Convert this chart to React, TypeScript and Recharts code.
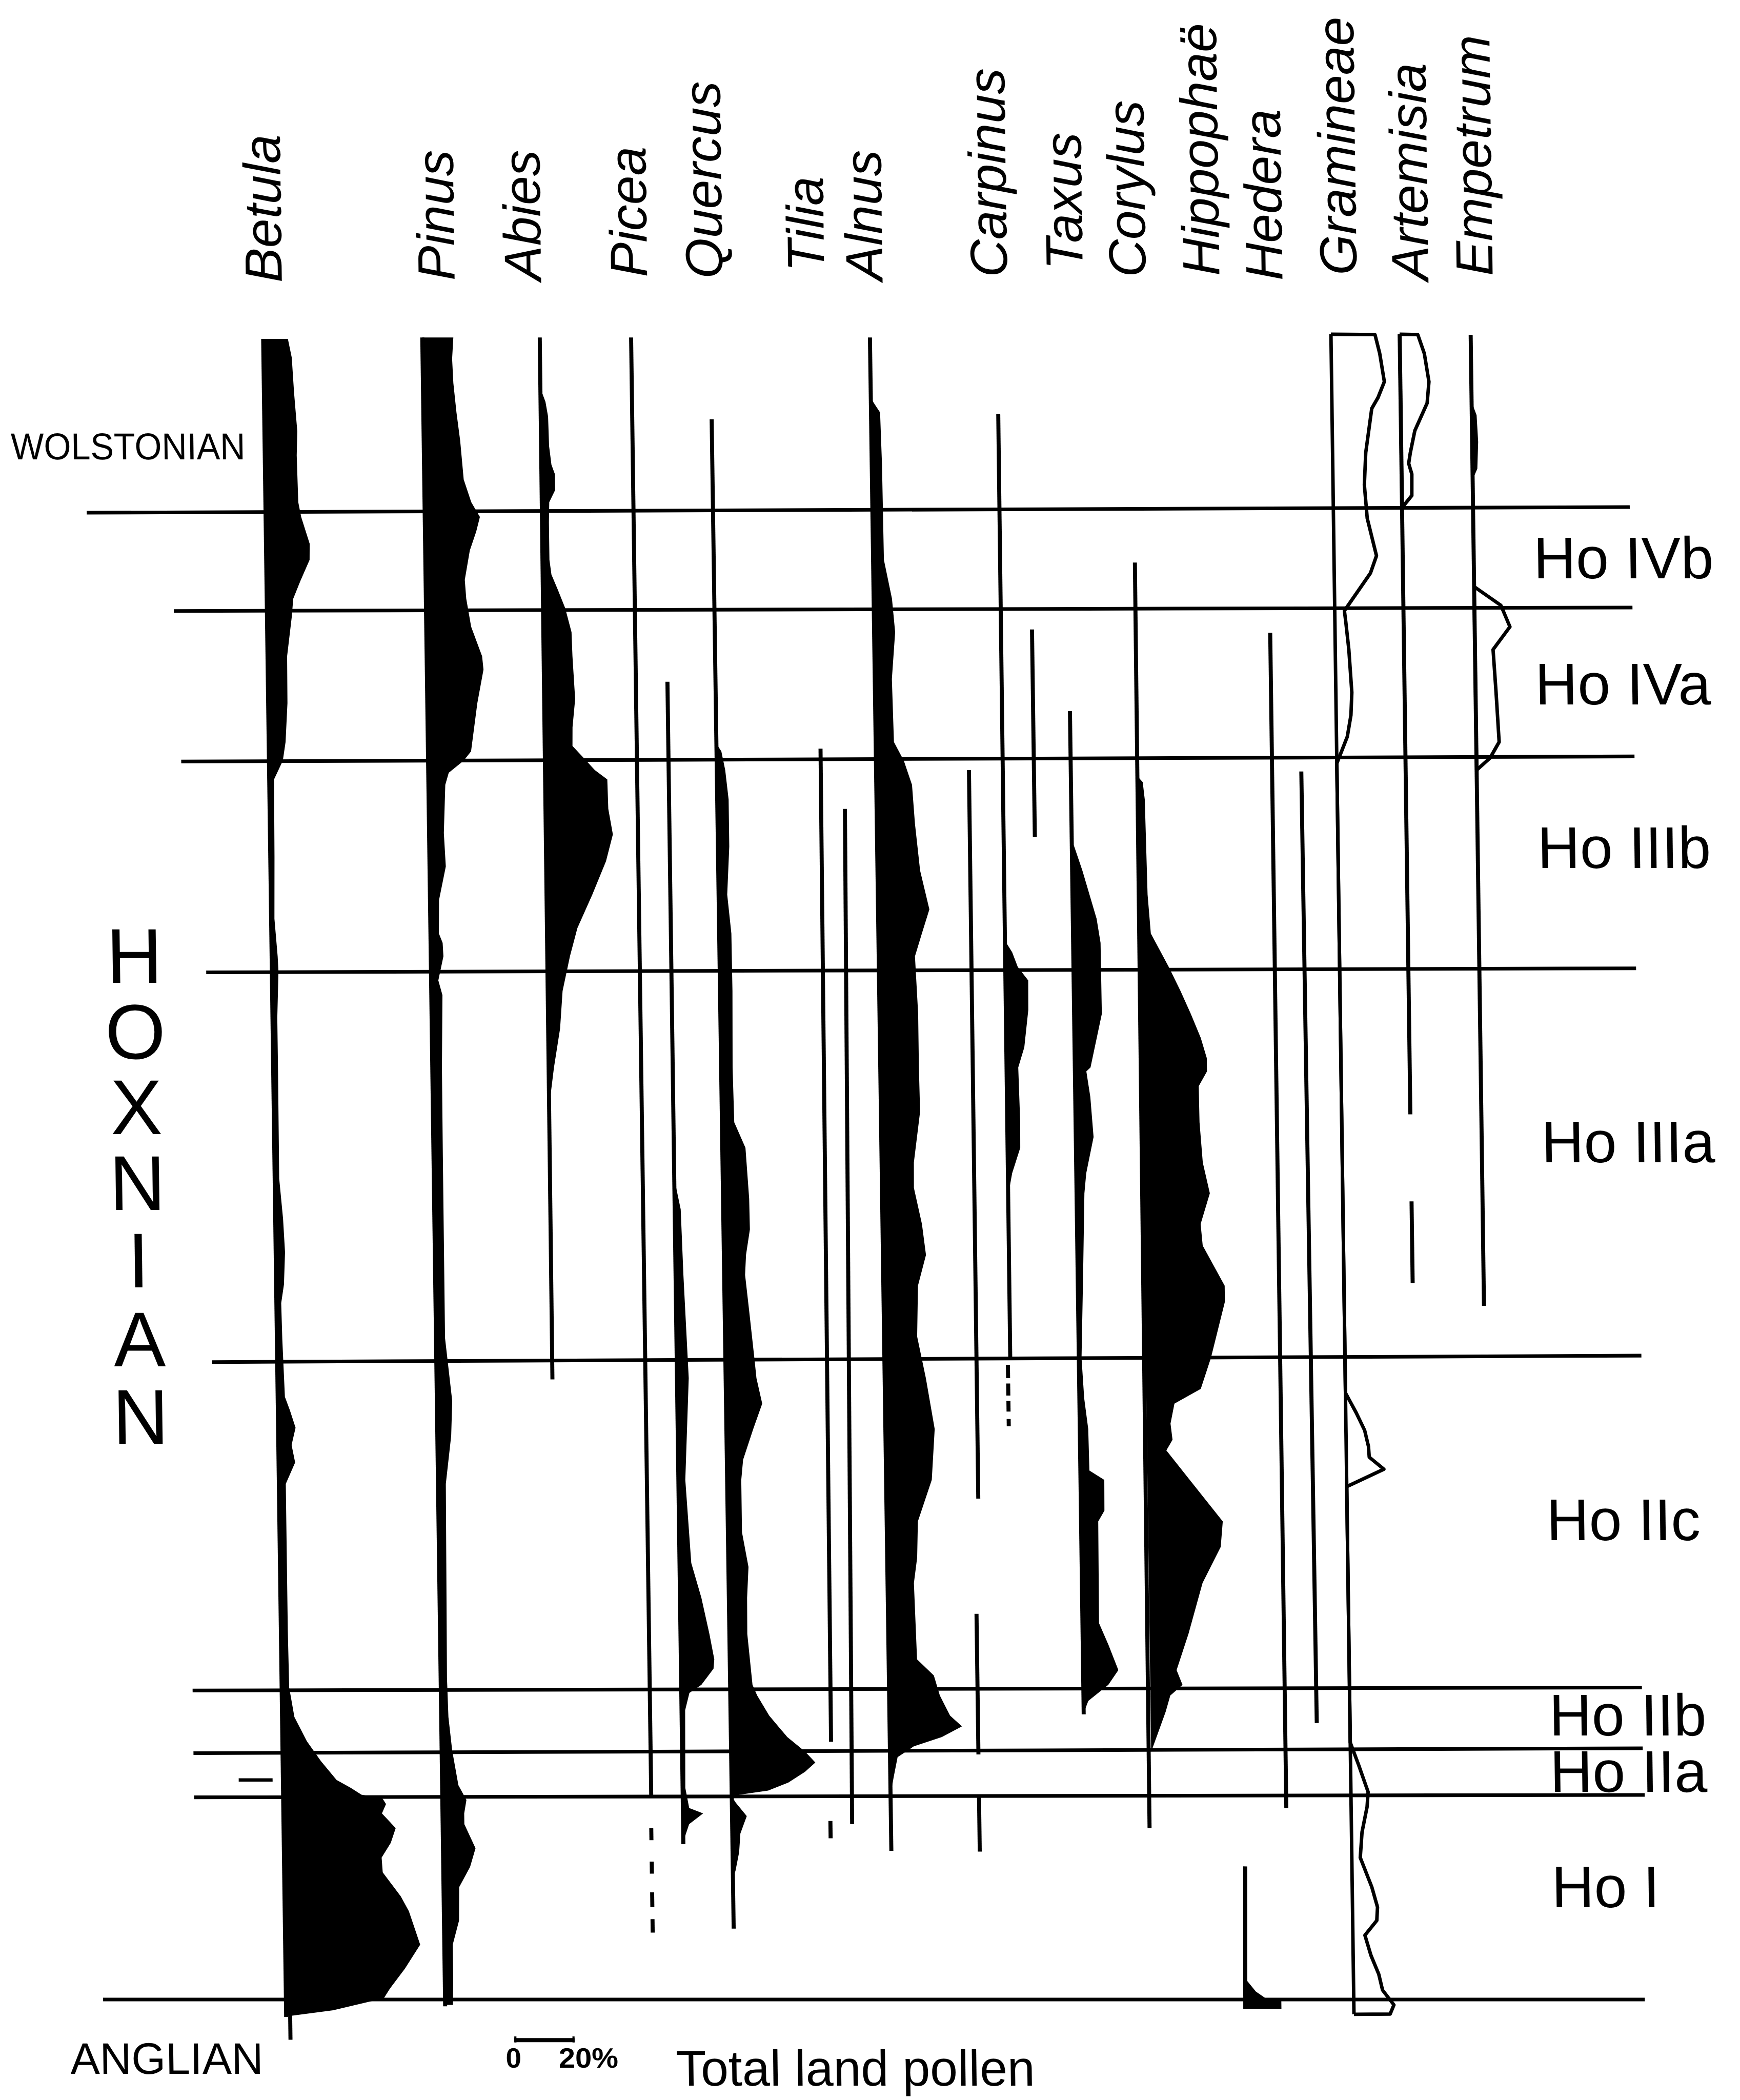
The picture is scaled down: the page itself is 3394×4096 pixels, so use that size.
import React from 'react';
import { ComposedChart, Area, XAxis, YAxis, ReferenceLine } from 'recharts';

type Sample = [number, number]; // [depth, % of total land pollen]

// ---- canvas & drawing units -------------------------------------------
const W = 3394;
const H = 4096;
const UX = 1299; // horizontal drawing units across the sheet
const UY = 1568; // depth units down the sheet
const K = W / UX;
const PCT = 2.25; // drawing units for 1 % of total land pollen (20 % bar = 45 units)
const SHEAR = 0.0137; // the whole sheet leans slightly to the right
const SHEAR_Y0 = 255;
const INK = '#000';
const FONT = "'Liberation Sans', Arial, Helvetica, sans-serif";

// ---- taxa ---------------------------------------------------------------
const TAXA = [
  'Betula', 'Pinus', 'Abies', 'Picea', 'Quercus', 'Tilia', 'Alnus', 'Carpinus',
  'Taxus', 'Corylus', 'Hippophaë', 'Hedera', 'Gramineae', 'Artemisia', 'Empetrum',
];
// label baseline x and start y for each rotated taxon name
const TAXON_LABEL_X = [211, 340, 404.6, 483.8, 540, 616, 659.5, 752.5, 809, 856, 911, 958, 1013.5, 1067, 1115];
const TAXON_LABEL_Y = [211, 209.5, 209.5, 207, 208, 203, 209.5, 207, 201.5, 207, 206, 209.5, 205.5, 209.5, 206];

// ---- zones --------------------------------------------------------------
const ZONES = ['Ho IVb', 'Ho IVa', 'Ho IIIb', 'Ho IIIa', 'Ho IIc', 'Ho IIb', 'Ho IIa', 'Ho I'];
const ZONE_LABEL_Y = [432, 526, 648, 868, 1150, 1296, 1338, 1424];
// zone boundaries: depth at the left end, depth at the right end
const BOUNDARY_LEFT = [382.8, 456.2, 568.6, 726, 1017, 1262.2, 1309, 1342, 1493];
const BOUNDARY_RIGHT = [378.6, 453.6, 564.8, 723, 1012.2, 1260, 1305.4, 1340.2, 1493];
const BOUNDARY_X0 = [63, 127, 131, 147.5, 148, 130, 130, 130, 60];
const BOUNDARY_X1 = [1215, 1216, 1216, 1215, 1215, 1212, 1212, 1213, 1211];

const STAGE = 'HOXNIAN';
const STAGE_Y = [733.7, 790.5, 846.7, 903.6, 961.3, 1020.1, 1077.9];

// ---- pollen curves (% total land pollen) --------------------------------
const BETULA: Sample[] = [
  [253, 8.2], [267, 9.4], [293, 10], [322, 10.9], [340, 10.6], [375, 10.9], [386, 11.8],
  [406, 14.5], [418, 14.4], [434, 11.2], [447, 8.8], [461, 8.2], [490, 6.5], [525, 6.4],
  [554, 5.6], [568, 4.6], [582, 1.6], [640, 1.4], [686, 1.1], [714, 2], [725, 2.2],
  [760, 1.6], [800, 1.6], [880, 1.5], [910, 2.6], [935, 3.1], [959, 2.6], [973, 1.6],
  [1000, 1.8], [1043, 2.4], [1053, 4], [1066, 5.8], [1079, 4.4], [1092, 5.5], [1108, 2.3],
  [1217, 2.3], [1260, 2.5], [1282, 4.1], [1300, 8.1], [1315, 12.7], [1329, 17.8],
  [1335, 22.5], [1340, 26], [1343, 33], [1347, 34.1], [1354, 32.7], [1365, 37.2],
  [1376, 35.5], [1387, 32.4], [1398, 32.7], [1416, 38.6], [1427, 41.2], [1452, 44.8],
  [1470, 39.6], [1485, 34.5], [1492, 32.5], [1501, 15.6], [1505, 2],
];
const PINUS: Sample[] = [
  [252, 10.3], [268, 9.8], [286, 10.1], [308, 11], [329, 12.1], [358, 13.1], [375, 15.5],
  [386, 18.3], [397, 17], [411, 14.8], [433, 13], [447, 13.4], [468, 14.9], [490, 18.4],
  [500, 18.8], [525, 16.6], [561, 14.3], [568, 11.8], [577, 6.8], [586, 5.6], [622, 4.9],
  [647, 5.4], [672, 3], [697, 2.8], [704, 4], [714, 4.2], [732, 2.4], [743, 3.7],
  [797, 3.2], [864, 3.1], [999, 3], [1046, 5.1], [1072, 4.6], [1108, 2.6], [1253, 2.1],
  [1282, 2.4], [1307, 3.5], [1333, 5.4], [1344, 8], [1354, 7.2], [1362, 7.2], [1380, 10.8],
  [1394, 8.9], [1409, 5.2], [1434, 5], [1452, 2.8], [1478, 2.8], [1497, 2.6],
];
const ABIES: Sample[] = [
  [290, 0], [300, 1.6], [311, 2.4], [333, 2.6], [347, 3.3], [354, 4.4], [366, 4.4],
  [375, 2.4], [390, 2.2], [418, 2.2], [429, 2.8], [440, 4.8], [454, 7.2], [472, 9.2],
  [490, 9.4], [522, 10.1], [543, 9.1], [557, 9], [565, 12.3], [575, 16.3], [582, 20.4],
  [604, 20.6], [623, 22], [643, 19.6], [668, 14.9], [693, 9.8], [714, 7.2], [740, 4.6],
  [768, 3.6], [797, 1.4], [820, 0],
];
const QUERCUS: Sample[] = [
  [555, 0], [561, 1.7], [575, 2.9], [597, 3.9], [632, 3.9], [668, 3], [697, 4.2],
  [740, 4.3], [797, 4], [838, 4.3], [857, 7.9], [895, 8.9], [918, 9], [937, 7.6],
  [952, 7.2], [979, 8.4], [1014, 9.9], [1029, 10.5], [1048, 12.3], [1067, 9.2],
  [1090, 5.7], [1105, 5], [1144, 5], [1170, 7], [1193, 6.4], [1220, 6.3], [1258, 7.8],
  [1266, 9.3], [1281, 13.2], [1297, 19.1], [1308, 25], [1316, 28.3], [1323, 24.8],
  [1331, 19.2], [1337, 12.5], [1340, 3], [1342, 0.6], [1346, 1.7], [1356, 5.3],
  [1369, 3.1], [1383, 2.6], [1397, 1.3], [1405, 0],
];
// unlabelled trace drawn just left of Quercus
const TRACE_A: Sample[] = [
  [880, 0], [903, 2], [952, 2.6], [1029, 3.9], [1105, 2.3], [1167, 3.9], [1193, 7.1],
  [1220, 9.6], [1239, 11.1], [1246, 10.8], [1258, 6.7], [1264, 2.7], [1277, 1.2],
  [1335, 0.9], [1350, 2.1], [1354, 6.7], [1362, 2], [1375, 0],
];
const ALNUS: Sample[] = [
  [298, 0], [302, 1.1], [308, 2.8], [347, 3.2], [418, 3.4], [447, 5.9], [472, 6.8],
  [507, 5.5], [554, 5.9], [568, 9.1], [586, 11.7], [615, 12.5], [650, 14], [679, 16.9],
  [697, 14.3], [714, 11.9], [757, 12.7], [797, 12.7], [830, 12.9], [868, 10.6],
  [887, 10.5], [914, 13], [937, 14.2], [960, 11.4], [998, 10.9], [1029, 13.6],
  [1067, 16.3], [1105, 15.1], [1136, 10.3], [1163, 9.9], [1182, 8.7], [1239, 9.4],
  [1251, 14.9], [1266, 16.8], [1281, 20.1], [1289, 24], [1297, 17.3], [1304, 7.9],
  [1312, 2.5], [1327, 1.1], [1340, 0],
];
const CARPINUS: Sample[] = [
  [700, 0], [704, 0.4], [711, 2.3], [722, 4.1], [732, 7.5], [754, 7.4], [782, 5.9],
  [797, 3.8], [838, 4.2], [857, 4.1], [876, 1.3], [891, 0],
];
const TAXUS: Sample[] = [
  [628, 0], [632, 0.8], [650, 3.4], [686, 7.9], [704, 9.1], [757, 9.2], [797, 5.2],
  [800, 3.8], [819, 5], [849, 5.9], [876, 3.3], [891, 2.6], [952, 1.8], [1014, 0.9],
  [1044, 1.6], [1067, 2.8], [1098, 3], [1105, 7.9], [1128, 7.8], [1136, 5.7],
  [1212, 5.5], [1228, 8.5], [1247, 11.7], [1258, 8.3], [1270, 1.6], [1279, 0],
];
const CORYLUS: Sample[] = [
  [580, 0], [584, 1.6], [597, 2.2], [668, 2.7], [697, 3.6], [722, 9.4], [740, 13.2],
  [757, 16.5], [775, 19.7], [790, 21.6], [800, 21.6], [811, 18.8], [838, 18.9],
  [868, 19.8], [891, 22], [914, 18.8], [930, 19.4], [960, 26.5], [972, 26.5],
  [1014, 21.6], [1037, 18.1], [1048, 9.3], [1063, 7.9], [1075, 8.5], [1083, 6.4],
  [1102, 13], [1136, 24.8], [1155, 24], [1182, 17.8], [1220, 12.9], [1247, 8.8],
  [1258, 10.7], [1266, 6.6], [1278, 5], [1293, 2.5], [1308, 0],
];
// short trace at the foot of the Hedera column
const TRACE_B: Sample[] = [
  [1478, 0], [1487, 3.2], [1493, 7], [1494, 11.6], [1500, 11.6],
];
const GRAMINEAE: Sample[] = [
  [249.6, 0], [249.8, 14.6], [264, 16.1], [285, 17.5], [297, 15.3], [305, 13.2],
  [338, 11], [362, 10.4], [387, 11.2], [415, 14.1], [428, 12], [456, 3.2], [464, 3.6],
  [485, 4.5], [517, 5.3], [534, 4.9], [550, 3.6], [570, 0], [1040, 0], [1055, 3.5],
  [1068, 6.2], [1080, 7.4], [1088, 7.6], [1097, 12.4], [1110, 0], [1301, 0],
  [1318, 2.7], [1338, 5.7], [1349, 5.3], [1368, 3.5], [1387, 2.8], [1409, 6.5],
  [1424, 8.3], [1434, 8], [1445, 4], [1460, 5.9], [1474, 8.4], [1486, 9.6],
  [1497, 13.3], [1503.8, 12], [1504, 0],
];
const ARTEMISIA: Sample[] = [
  [249.6, 0], [249.8, 6], [264, 8.1], [285, 9.5], [301, 8.8], [321.5, 4.6], [338, 3],
  [346, 2.4], [354, 3.4], [370, 3.3], [379, 0],
];
const EMPETRUM: Sample[] = [
  [438, 0], [452, 8.8], [468, 11.7], [485, 6], [517, 6.8], [554, 7.6], [566, 4.5], [575, 0],
];
const EMPETRUM_TOP: Sample[] = [[300, 0], [310, 1.6], [330, 2], [350, 1.6], [358, 0]];

interface CurveDef { key: string; origin: number; samples: Sample[]; outline?: boolean }
const CURVES: CurveDef[] = [
  { key: 'betula', origin: 196.5, samples: BETULA },
  { key: 'pinus', origin: 315.3, samples: PINUS },
  { key: 'abies', origin: 403, samples: ABIES },
  { key: 'traceA', origin: 494.8, samples: TRACE_A },
  { key: 'quercus', origin: 530.5, samples: QUERCUS },
  { key: 'alnus', origin: 650, samples: ALNUS },
  { key: 'carpinus', origin: 744.2, samples: CARPINUS },
  { key: 'taxus', origin: 795, samples: TAXUS },
  { key: 'corylus', origin: 845, samples: CORYLUS },
  { key: 'traceB', origin: 913.5, samples: TRACE_B },
  { key: 'empetrumTop', origin: 1098, samples: EMPETRUM_TOP },
  { key: 'gramineae', origin: 993.7, samples: GRAMINEAE, outline: true },
  { key: 'artemisia', origin: 1045, samples: ARTEMISIA, outline: true },
  { key: 'empetrum', origin: 1098, samples: EMPETRUM, outline: true },
];

// zero lines of each record: x at top, x at bottom, first and last depth
const RECORD_SPANS: [number, number, number, number][] = [
  [196.5, 196.5, 253, 1506], // Betula
  [315.3, 315.3, 252, 1498], // Pinus
  [403, 401.8, 252, 1030], // Abies
  [471.2, 471.3, 252, 1342.5], // Picea
  [494.8, 494.8, 509, 1377],
  [530.5, 531.5, 313, 1440], // Quercus
  [608.4, 606.1, 559, 1300.5], // Tilia
  [604.8, 604.8, 1359.7, 1372.6],
  [626, 621, 604, 1362],
  [649.5, 650, 252, 1382], // Alnus
  [719, 718.5, 575, 1119],
  [716, 716, 1205, 1310],
  [716, 716, 1340.6, 1382.5],
  [744.5, 743.8, 309, 1015], // Carpinus
  [767.5, 767.5, 470, 625],
  [795, 795, 531, 1280], // Taxus
  [845, 843, 420, 1365], // Corylus
  [945.3, 945.3, 472.5, 1350], // Hedera
  [914, 912.6, 1393.6, 1500],
  [967.1, 968.9, 576, 1286.5],
  [1045, 1045, 249.6, 832], // Artemisia
  [1045, 1045, 897, 958],
  [1098, 1098, 250, 975], // Empetrum
];
// broken continuation of Picea and Carpinus: [x, from, to]
const BROKEN: [number, number, number][] = [
  [471, 1365, 1374], [471, 1390, 1399], [471, 1413, 1424], [471, 1433, 1443],
  [742, 1019, 1029], [742, 1033, 1042], [742, 1046, 1054], [742, 1059.5, 1065],
];

const SCALE_BAR_X = 366.6;
const SCALE_BAR_Y = 1523.3;
const SCALE_PCT = 20;

function buildRows() {
  const set = new Set<number>();
  CURVES.forEach((c) => c.samples.forEach(([d]) => set.add(d)));
  const depths = Array.from(set).sort((a, b) => a - b);
  return depths.map((d) => {
    const row: Record<string, unknown> = { depth: d };
    CURVES.forEach((c) => {
      const s = c.samples.find((p) => p[0] === d);
      row[c.key] = s ? [c.origin, c.origin + s[1] * PCT] : [null, null];
    });
    return row;
  });
}

const ROWS = buildRows();

function seg(x0: number, y0: number, x1: number, y1: number, w: number, key: string) {
  return (
    <ReferenceLine
      key={key}
      segment={[{ x: x0, y: y0 }, { x: x1, y: y1 }]}
      stroke={INK}
      strokeWidth={w * K}
      ifOverflow="visible"
    />
  );
}

export default function App() {
  const shearDeg = (Math.atan(SHEAR) * 180) / Math.PI;
  return (
    <div style={{ position: 'absolute', left: 0, top: 0, width: W, height: H, background: '#fff', overflow: 'hidden' }}>
      <div
        style={{
          position: 'absolute', left: 0, top: 0, width: W, height: H,
          transform: `skewX(${shearDeg}deg)`,
          transformOrigin: `0px ${SHEAR_Y0 * K}px`,
        }}
      >
        <ComposedChart
          width={W}
          height={H}
          data={ROWS}
          layout="vertical"
          margin={{ top: 0, right: 0, bottom: 0, left: 0 }}
        >
          <XAxis type="number" domain={[0, UX]} allowDataOverflow hide />
          {/* in vertical layout the depth axis already runs top to bottom */}
          <YAxis type="number" dataKey="depth" domain={[0, UY]} allowDataOverflow hide />
          {CURVES.map((c) => (
            <Area
              key={c.key}
              dataKey={c.key}
              type="linear"
              connectNulls
              isAnimationActive={false}
              dot={false}
              activeDot={false}
              fill={c.outline ? 'none' : INK}
              fillOpacity={1}
              stroke={c.outline ? INK : 'none'}
              strokeWidth={2.6 * K}
              strokeLinejoin="round"
            />
          ))}
          {RECORD_SPANS.map(([x0, x1, a, b], i) => seg(x0, a, x1, b, 3, `rec${i}`))}
          {BROKEN.map(([x, a, b], i) => seg(x, a, x, b, 3, `brk${i}`))}
          {BOUNDARY_LEFT.map((yl, i) =>
            seg(BOUNDARY_X0[i], yl, BOUNDARY_X1[i], BOUNDARY_RIGHT[i], 2.7, `zone${i}`),
          )}
          {seg(199.5, 1500, 199.5, 1523, 3, 'foot')}
          {seg(163.5, 1329, 188.8, 1329, 2.5, 'mark')}
          {seg(SCALE_BAR_X, SCALE_BAR_Y, SCALE_BAR_X + SCALE_PCT * PCT, SCALE_BAR_Y, 3, 'bar')}
          {seg(SCALE_BAR_X + 0.8, 1520.5, SCALE_BAR_X + 0.8, 1525, 1.6, 'barL')}
          {seg(SCALE_BAR_X + SCALE_PCT * PCT - 0.8, 1520.5, SCALE_BAR_X + SCALE_PCT * PCT - 0.8, 1525, 1.6, 'barR')}
        </ComposedChart>
        <svg
          width={W}
          height={H}
          viewBox={`0 0 ${UX} ${UY}`}
          preserveAspectRatio="none"
          style={{ position: 'absolute', left: 0, top: 0, pointerEvents: 'none' }}
          fontFamily={FONT}
          fill={INK}
        >
          {TAXA.map((t, i) => (
            <text
              key={t}
              x={TAXON_LABEL_X[i]}
              y={TAXON_LABEL_Y[i]}
              transform={`rotate(-90 ${TAXON_LABEL_X[i]} ${TAXON_LABEL_Y[i]})`}
              fontSize={39}
              fontStyle="italic"
            >
              {t}
            </text>
          ))}
          {ZONES.map((z, i) => (
            <text key={z} x={1142.5} y={ZONE_LABEL_Y[i]} fontSize={44}>
              {z}
            </text>
          ))}
          {STAGE.split('').map((ch, i) => (
            <text key={i} x={94} y={STAGE_Y[i]} fontSize={58} textAnchor="middle">
              {ch}
            </text>
          ))}
          <text x={7} y={343} fontSize={28} textLength={175} lengthAdjust="spacingAndGlyphs">WOLSTONIAN</text>
          <text x={35} y={1548.3} fontSize={33} textLength={144} lengthAdjust="spacingAndGlyphs">ANGLIAN</text>
          <text x={360} y={1544} fontSize={21} fontWeight="bold">0</text>
          <text x={399.5} y={1544} fontSize={21} fontWeight="bold" textLength={44.5} lengthAdjust="spacingAndGlyphs">20%</text>
          <text x={487} y={1557.3} fontSize={37.6} textLength={268} lengthAdjust="spacingAndGlyphs">Total land pollen</text>
        </svg>
      </div>
    </div>
  );
}
